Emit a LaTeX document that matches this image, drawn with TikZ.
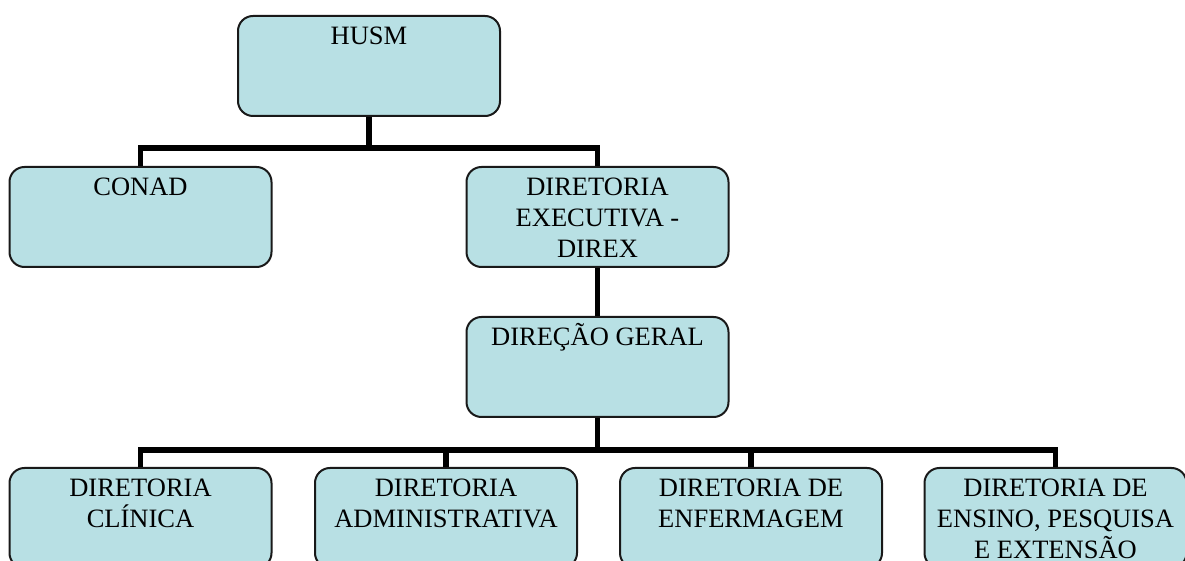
\documentclass[tikz,border=0pt]{standalone}
\usepackage{fontspec}
\setmainfont{Liberation Serif}
\usetikzlibrary{positioning}

\definecolor{boxfill}{RGB}{184,224,228}
\definecolor{boxline}{RGB}{25,25,25}

\tikzset{
  orgbox/.style={draw=boxline, fill=boxfill, line width=1pt, rounded corners=7.5pt,
    inner sep=0pt, anchor=north, minimum width=131pt, minimum height=50pt,
    font=\fontsize{13.25}{15.5}\selectfont,
    execute at begin node={\begin{minipage}[t][50pt][t]{131pt}\centering\rule{0pt}{14.5pt}},
    execute at end node={\end{minipage}}},
  link/.style={draw=black, line width=2.8pt, line join=miter}
}

\begin{document}
\begin{tikzpicture}[x=0.5pt, y=-0.5pt]
  \useasboundingbox (0,0) rectangle (1185,561);

  % top levels
  \node[orgbox] (husm) at (369,15) {HUSM};
  \node[orgbox] (conad) at (140.5,166) {CONAD};
  \node[orgbox] (direx) at (597.5,166) {DIRETORIA\\EXECUTIVA -\\DIREX};
  \node[orgbox] (geral) at (597.5,316) {DIREÇÃO GERAL};

  % diretorias
  \node[orgbox] (clinica) at (140.5,467) {DIRETORIA\\CLÍNICA};
  \node[orgbox] (admin) at (446,467) {DIRETORIA\\ADMINISTRATIVA};
  \node[orgbox] (enferm) at (751,467) {DIRETORIA DE\\ENFERMAGEM};
  \node[orgbox] (ensino) at (1055.5,467) {DIRETORIA DE\\ENSINO, PESQUISA\\E EXTENSÃO};

  \coordinate (topbus) at (0,148);
  \coordinate (lowbus) at (0,450);

  \draw[link] (husm.south) -- (husm.south |- topbus);
  \draw[link] (conad.north) |- (direx.north |- topbus) -- (direx.north);
  \draw[link] (direx.south) -- (geral.north);

  \draw[link] (geral.south) -- (geral.south |- lowbus);
  \draw[link] (clinica.north) |- (ensino.north |- lowbus) -- (ensino.north);
  \foreach \n in {admin,enferm}
    \draw[link] (\n.north) -- (\n.north |- lowbus);

\end{tikzpicture}
\end{document}
